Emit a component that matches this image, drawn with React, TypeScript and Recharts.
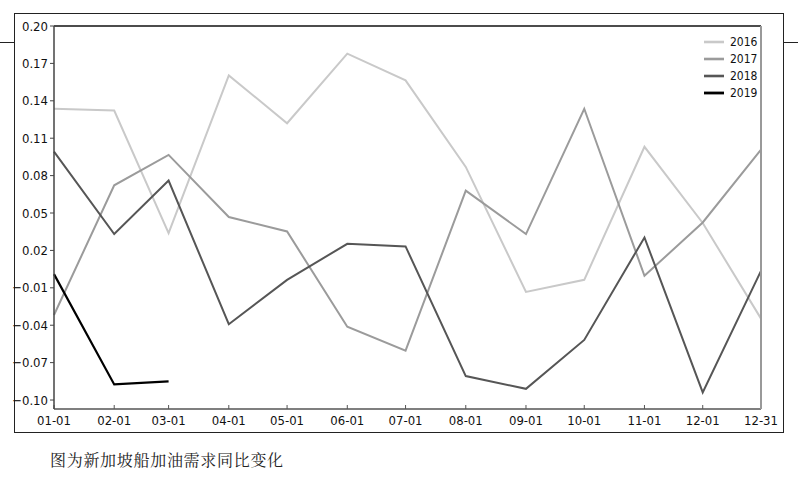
import { Line, LineChart, XAxis, YAxis } from 'recharts'

// day of year for each monthly point, and its axis label
const days = [0, 31, 59, 90, 120, 151, 181, 212, 243, 273, 304, 334, 364]
const dayLabels = [
  '01-01', '02-01', '03-01', '04-01', '05-01', '06-01', '07-01',
  '08-01', '09-01', '10-01', '11-01', '12-01', '12-31',
]

const seriesNames = ['2016', '2017', '2018', '2019']
const v2016 = [0.1336, 0.1322, 0.0339, 0.1604, 0.122, 0.1778, 0.1564, 0.087, -0.0133, -0.0036, 0.1031, 0.042, -0.0347]
const v2017 = [-0.0318, 0.0722, 0.0966, 0.0468, 0.0352, -0.0412, -0.0604, 0.0679, 0.0331, 0.1336, -0.0004, 0.0424, 0.1009]
const v2018 = [0.0993, 0.0331, 0.076, -0.0392, -0.0036, 0.0253, 0.0232, -0.0808, -0.091, -0.0518, 0.0304, -0.0939, 0.0036]
const v2019 = [0.001, -0.0875, -0.085]

const yTicks = [-0.1, -0.07, -0.04, -0.01, 0.02, 0.05, 0.08, 0.11, 0.14, 0.17, 0.2]

const caption = '图为新加坡船加油需求同比变化'

const colors = ['#c9c9c9', '#9b9b9b', '#565656', '#000000']
const widths = [2, 2, 2, 2.2]

const data = days.map((day, i) => ({
  day,
  s2016: v2016[i],
  s2017: v2017[i],
  s2018: v2018[i],
  s2019: i < v2019.length ? v2019[i] : null,
}))

const tickFont = '"Liberation Sans Narrow", "DejaVu Sans Condensed", sans-serif'
const yDomain = [-0.1072, 0.2]

const fmtY = (v: number) => (v < 0 ? '\u2212' : '') + Math.abs(v).toFixed(2)
const fmtX = (v: number) => dayLabels[days.indexOf(v)] ?? ''

function LegendBox() {
  return (
    <div
      style={{
        position: 'absolute', left: 704, top: 34,
        fontFamily: tickFont, fontSize: 12, color: '#111',
      }}
    >
      {seriesNames.map((name, i) => (
        <div key={name} style={{ display: 'flex', alignItems: 'center', height: 16.8 }}>
          <svg width={20} height={6} style={{ marginRight: 6 }}>
            <line x1={0} x2={20} y1={3} y2={3} stroke={colors[i]} strokeWidth={widths[i] + 0.6} />
          </svg>
          <span>{name}</span>
        </div>
      ))}
    </div>
  )
}

export default function App() {
  return (
    <div style={{ position: 'absolute', left: 0, top: 0, width: 798, height: 496, background: '#fff' }}>
      <div style={{ position: 'absolute', left: 0, top: 42, width: 15, borderTop: '1px solid #222' }} />
      <div style={{ position: 'absolute', left: 783, top: 42, width: 15, borderTop: '1px solid #222' }} />
      <div
        style={{
          position: 'absolute', left: 14, top: 13, width: 768, height: 418,
          border: '1px solid #222',
        }}
      />
      <div style={{ position: 'absolute', left: 0, top: 0 }}>
        <LineChart
          width={798}
          height={496}
          data={data}
          margin={{ top: 25, right: 36, bottom: 57, left: 0 }}
        >
          <XAxis
            dataKey="day"
            type="number"
            domain={[0, 364]}
            ticks={days}
            tickFormatter={fmtX}
            height={30}
            tickSize={-4}
            tickMargin={11}
            interval={0}
            axisLine={{ stroke: '#555', strokeWidth: 1.5 }}
            tickLine={{ stroke: '#555' }}
            tick={{ fill: '#111', fontSize: 13, fontFamily: tickFont }}
          />
          <XAxis
            xAxisId="top"
            orientation="top"
            dataKey="day"
            type="number"
            domain={[0, 364]}
            height={1}
            tick={false}
            tickLine={false}
            axisLine={{ stroke: '#111', strokeWidth: 1.5 }}
          />
          <YAxis
            type="number"
            domain={yDomain}
            allowDataOverflow
            ticks={yTicks}
            tickFormatter={fmtY}
            width={54}
            tickSize={4}
            tickMargin={2}
            interval={0}
            axisLine={{ stroke: '#444', strokeWidth: 1.5 }}
            tickLine={{ stroke: '#444' }}
            tick={{ fill: '#111', fontSize: 13, fontFamily: tickFont }}
          />
          <YAxis
            yAxisId="right"
            orientation="right"
            type="number"
            domain={yDomain}
            width={1}
            tick={false}
            tickLine={false}
            axisLine={{ stroke: '#999', strokeWidth: 2 }}
          />
          {seriesNames.map((name, i) => (
            <Line
              key={name}
              dataKey={`s${name}`}
              name={name}
              type="linear"
              stroke={colors[i]}
              strokeWidth={widths[i]}
              dot={false}
              activeDot={false}
              isAnimationActive={false}
            />
          ))}
        </LineChart>
      </div>
      <LegendBox />
      <div
        style={{
          position: 'absolute', left: 50, top: 449,
          fontFamily: '"Noto Serif CJK SC", "Noto Sans CJK SC", serif',
          fontSize: 16, letterSpacing: 0.7, color: '#222', lineHeight: '22px',
        }}
      >
        {caption}
      </div>
    </div>
  )
}
